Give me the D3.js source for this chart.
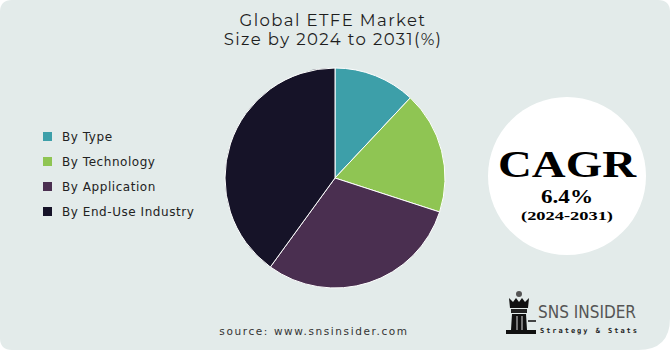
<!DOCTYPE html>
<html>
<head>
<meta charset="utf-8">
<script src="https://cdn.jsdelivr.net/npm/d3@7"></script>
<style>
  body { margin: 0; background: #ffffff; }
  svg { display: block; }
</style>
</head>
<body>
<div class="chart"></div>
<script>
const segments = ["By Type", "By Technology", "By Application", "By End-Use Industry"];
const shares = [12, 18, 30, 40];
const colors = ["#3d9fa9", "#8fc553", "#4a2f50", "#161328"];
const titleLines = ["Global ETFE Market", "Size by 2024 to 2031(%)"];
const cagrValue = "6.4%";
const cagrPeriod = "(2024-2031)";

const width = 670, height = 350;

const svg = d3.select("div.chart")
    .append("svg")
    .attr("width", width)
    .attr("height", height);

// card background with rounded corners (bottom right rounder)
svg.append("path")
    .attr("d", `M12,0 H658 Q670,0 670,12 V318 Q670,350 638,350 H12 Q0,350 0,338 V12 Q0,0 12,0 Z`)
    .attr("fill", "#e3ebea");

// title
svg.append("g")
    .selectAll("text")
    .data(titleLines)
    .enter()
    .append("text")
    .attr("x", 333)
    .attr("y", (d, i) => 26 + i * 19)
    .attr("text-anchor", "middle")
    .style("font-family", "Montserrat, 'Open Sans', sans-serif")
    .style("font-size", "16.5px")
    .style("letter-spacing", "1.4px")
    .style("fill", "#1e1e1e")
    .text(d => d);

// pie
const pie = d3.pie().sort(null).value(d => d);
const arc = d3.arc().innerRadius(0).outerRadius(110);

svg.append("g")
    .attr("transform", "translate(335,178)")
    .selectAll("path")
    .data(pie(shares))
    .enter()
    .append("path")
    .attr("d", arc)
    .attr("fill", (d, i) => colors[i])
    .attr("stroke", "#ffffff")
    .attr("stroke-width", 1);

// legend
const legend = svg.append("g")
    .selectAll("g")
    .data(segments)
    .enter()
    .append("g")
    .attr("transform", (d, i) => `translate(43,${132 + i * 25})`);

legend.append("rect")
    .attr("width", 9)
    .attr("height", 9)
    .attr("fill", (d, i) => colors[i]);

legend.append("text")
    .attr("x", 19)
    .attr("y", 9)
    .style("font-family", "'DejaVu Sans', sans-serif")
    .style("font-size", "12px")
    .style("letter-spacing", "0.55px")
    .style("fill", "#222")
    .text(d => d);

// CAGR badge
const badge = svg.append("g").attr("transform", "translate(567,176)");
badge.append("circle").attr("r", 79).attr("fill", "#ffffff");
badge.append("text")
    .attr("y", 1)
    .attr("text-anchor", "middle")
    .style("font-family", "'Liberation Serif', serif")
    .style("font-weight", "bold")
    .style("font-size", "38px")
    .style("fill", "#000")
    .attr("textLength", 138)
    .attr("lengthAdjust", "spacingAndGlyphs")
    .text("CAGR");
badge.append("text")
    .attr("y", 27)
    .attr("text-anchor", "middle")
    .style("font-family", "'Liberation Serif', serif")
    .style("font-weight", "bold")
    .style("font-size", "19px")
    .style("fill", "#000")
    .attr("textLength", 52)
    .attr("lengthAdjust", "spacingAndGlyphs")
    .text(cagrValue);
badge.append("text")
    .attr("y", 44)
    .attr("text-anchor", "middle")
    .style("font-family", "'Liberation Serif', serif")
    .style("font-weight", "bold")
    .style("font-size", "12.5px")
    .style("fill", "#000")
    .attr("textLength", 92)
    .attr("lengthAdjust", "spacingAndGlyphs")
    .text(cagrPeriod);

// source
svg.append("text")
    .attr("x", 314)
    .attr("y", 335)
    .attr("text-anchor", "middle")
    .style("font-family", "'DejaVu Sans', sans-serif")
    .style("font-size", "10.5px")
    .style("letter-spacing", "1.6px")
    .style("fill", "#333")
    .text("source: www.snsinsider.com");

// logo
const logo = svg.append("g").attr("transform", "translate(500,290)");
logo.append("circle").attr("cx", 19).attr("cy", 4).attr("r", 3).attr("fill", "#555");
logo.append("path")
    .attr("d", "M9,8 L13,12 L16,8 L19,12 L22,8 L25,12 L29,8 L28,18 L10,18 Z")
    .attr("fill", "#111");
logo.append("rect").attr("x", 11).attr("y", 19).attr("width", 16).attr("height", 4).attr("fill", "#222");
logo.append("path")
    .attr("d", "M12,24 H26 L27,40 H11 Z")
    .attr("fill", "#111");
logo.append("rect").attr("x", 16).attr("y", 26).attr("width", 2).attr("height", 14).attr("fill", "#777");
logo.append("rect").attr("x", 21).attr("y", 26).attr("width", 2).attr("height", 14).attr("fill", "#777");
logo.append("rect").attr("x", 6).attr("y", 40).attr("width", 30).attr("height", 4).attr("fill", "#111");
logo.append("rect").attr("x", 28).attr("y", 30).attr("width", 8).attr("height", 2).attr("fill", "#444");

svg.append("text")
    .attr("x", 538)
    .attr("y", 318)
    .style("font-family", "'DejaVu Sans', sans-serif")
    .style("font-size", "17px")
    .style("fill", "#555")
    .attr("textLength", 98)
    .attr("lengthAdjust", "spacingAndGlyphs")
    .text("SNS INSIDER");
svg.append("text")
    .attr("x", 540)
    .attr("y", 333)
    .style("font-family", "'DejaVu Sans Mono', monospace")
    .style("font-weight", "bold")
    .style("font-size", "7px")
    .style("fill", "#222")
    .attr("textLength", 97)
    .attr("lengthAdjust", "spacing")
    .text("Strategy & Stats");
</script>
</body>
</html>
